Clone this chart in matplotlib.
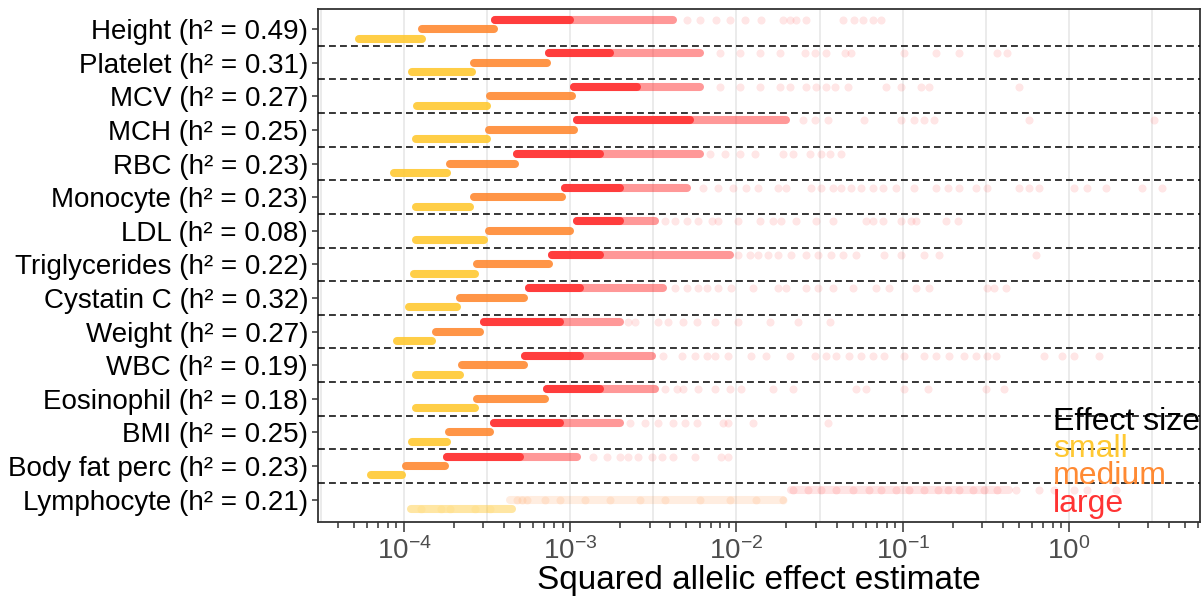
import numpy as np
import matplotlib
matplotlib.use("Agg")
import matplotlib.pyplot as plt

plt.rcParams['font.family'] = ['Liberation Sans', 'DejaVu Sans']

# ---- data (log10 of squared allelic effect) ----
traits = ["Height (h² = 0.49)", "Platelet (h² = 0.31)", "MCV (h² = 0.27)", "MCH (h² = 0.25)",
          "RBC (h² = 0.23)", "Monocyte (h² = 0.23)", "LDL (h² = 0.08)", "Triglycerides (h² = 0.22)",
          "Cystatin C (h² = 0.32)", "Weight (h² = 0.27)", "WBC (h² = 0.19)", "Eosinophil (h² = 0.18)",
          "BMI (h² = 0.25)", "Body fat perc (h² = 0.23)", "Lymphocyte (h² = 0.21)"]

# each band: [start, end of solid part, end of faded part]
small_band = [[-4.27, -3.89, -3.89], [-3.95, -3.59, -3.59], [-3.92, -3.50, -3.50], [-3.93, -3.50, -3.50],
              [-4.06, -3.74, -3.74], [-3.93, -3.60, -3.60], [-3.93, -3.52, -3.52], [-3.94, -3.57, -3.57],
              [-3.97, -3.68, -3.68], [-4.04, -3.83, -3.83], [-3.93, -3.66, -3.66], [-3.93, -3.57, -3.57],
              [-3.95, -3.74, -3.74], [-4.20, -4.01, -4.01], [-3.96, -3.96, -3.35]]
medium_band = [[-3.89, -3.46, -3.46], [-3.58, -3.14, -3.14], [-3.48, -2.99, -2.99], [-3.49, -2.98, -2.98],
               [-3.72, -3.33, -3.33], [-3.58, -3.05, -3.05], [-3.49, -3.00, -3.00], [-3.56, -3.13, -3.13],
               [-3.66, -3.28, -3.28], [-3.81, -3.54, -3.54], [-3.65, -3.28, -3.28], [-3.56, -3.15, -3.15],
               [-3.73, -3.48, -3.48], [-3.99, -3.75, -3.75], [-3.36, -3.36, -1.72]]
large_band = [[-3.45, -3.00, -2.38], [-3.13, -2.76, -2.22], [-2.98, -2.60, -2.22], [-2.96, -2.28, -1.70],
              [-3.32, -2.82, -2.22], [-3.03, -2.70, -2.30], [-2.96, -2.70, -2.49], [-3.11, -2.82, -2.04],
              [-3.25, -2.94, -2.44], [-3.52, -3.06, -2.70], [-3.27, -2.94, -2.51], [-3.14, -2.82, -2.49],
              [-3.46, -3.06, -2.70], [-3.74, -3.30, -2.96], [-1.67, -1.67, -0.36]]

# scattered single estimates beyond the dense part
small_tail = [[], [], [], [], [], [], [], [], [], [], [], [], [], [],
              [-3.90, -3.78, -3.72, -3.57, -3.48]]
medium_tail = [[], [], [], [], [], [], [], [], [], [], [], [], [], [],
               [-3.32, -3.29, -3.26, -3.15, -3.06, -2.91, -2.76, -2.58, -2.43, -2.22, -2.04, -1.88, -1.72]]
large_tail = [
    [-2.30, -2.22, -2.12, -2.04, -1.95, -1.85, -1.72, -1.68, -1.64, -1.58, -1.36, -1.29, -1.24, -1.18, -1.13],
    [-2.10, -1.98, -1.86, -1.74, -1.59, -1.53, -1.46, -1.35, -1.31, -0.99, -0.80, -0.66, -0.43, -0.37],
    [-2.10, -1.98, -1.86, -1.74, -1.68, -1.58, -1.52, -1.46, -1.41, -1.33, -1.10, -1.01, -0.89, -0.84, -0.30],
    [-1.60, -1.53, -1.45, -1.23, -1.01, -0.93, -0.87, -0.81, -0.24, 0.51],
    [-2.16, -2.07, -1.98, -1.89, -1.72, -1.66, -1.56, -1.49, -1.44, -1.37],
    [-2.20, -2.11, -2.02, -1.94, -1.87, -1.75, -1.70, -1.55, -1.49, -1.42, -1.37, -1.31, -1.25, -1.18,
     -1.12, -1.04, -0.93, -0.80, -0.73, -0.66, -0.56, -0.49, -0.30, -0.24, -0.18, 0.03, 0.11, 0.22, 0.44, 0.56],
    [-2.43, -2.37, -2.30, -2.23, -2.15, -2.11, -1.99, -1.86, -1.78, -1.73, -1.64, -1.52, -1.42, -1.22,
     -1.18, -1.12, -1.01, -0.95, -0.92, -0.74, -0.67],
    [-1.99, -1.92, -1.87, -1.81, -1.75, -1.67, -1.58, -1.51, -1.43, -1.36, -1.28, -1.11, -1.01, -0.87, -0.78, -0.20],
    [-2.37, -2.30, -2.23, -2.18, -2.11, -2.03, -1.90, -1.75, -1.70, -1.58, -1.51, -1.42, -1.30, -1.16,
     -1.08, -0.92, -0.84, -0.49, -0.45, -0.38],
    [-2.65, -2.61, -2.47, -2.41, -2.32, -2.24, -2.13, -1.99, -1.80, -1.63, -1.44],
    [-2.44, -2.33, -2.25, -2.18, -2.13, -2.05, -1.91, -1.82, -1.68, -1.53, -1.46, -1.40, -1.32, -1.25,
     -1.18, -1.11, -0.99, -0.87, -0.80, -0.72, -0.63, -0.56, -0.49, -0.44, -0.15, -0.04, 0.03, 0.18],
    [-2.43, -2.36, -2.32, -2.23, -2.13, -2.04, -1.97, -1.78, -1.66, -1.28, -1.22, -0.99, -0.85, -0.50, -0.39],
    [-2.64, -2.55, -2.47, -2.38, -2.31, -2.24, -2.08, -2.05, -1.90, -1.45],
    [-2.86, -2.78, -2.70, -2.65, -2.59, -2.51, -2.45, -2.38, -2.25, -2.09, -2.05],
    [-1.66, -1.57, -1.49, -1.40, -1.30, -1.20, -1.13, -1.04, -0.96, -0.87, -0.79, -0.73, -0.66, -0.58,
     -0.51, -0.43, -0.32, -0.18, -0.09, 0.03, 0.11, 0.28]]

size_names = ["small", "medium", "large"]
size_colors = ["#FFC933", "#FF8A33", "#FF3333"]

########################

fig = plt.figure(figsize=(12.03, 6.02), dpi=100)
ax = fig.add_axes([0.2643, 0.1334, 0.7332, 0.8512])

n = len(traits)
centers = np.arange(n)[::-1]
offsets = [-0.28, 0.0, 0.28]
faint_alpha = [0.45, 0.15, 0.13]   # alpha of the faded part in the last (sparse) row
lw = 5.8

for k in np.arange(-4.5, 0.6, 0.5):
    ax.axvline(10 ** k, color="#E6E6E6", lw=1.1, zorder=0)

for b, (bands, tails, off, col) in enumerate(zip([small_band, medium_band, large_band],
                                                 [small_tail, medium_tail, large_tail], offsets, size_colors)):
    for i in range(n):
        y = centers[i] + off
        lo, mid, hi = bands[i]
        faded = faint_alpha[b] if i == n - 1 else 0.5
        if hi > mid:
            ax.plot([10 ** lo, 10 ** hi], [y, y], color=col, lw=lw, alpha=faded,
                    solid_capstyle="round", zorder=2)
        if mid > lo:
            ax.plot([10 ** lo, 10 ** mid], [y, y], color=col, lw=lw, alpha=0.9,
                    solid_capstyle="round", zorder=3)
        if tails[i]:
            xs = 10 ** np.array(tails[i])
            ax.scatter(xs, np.full(len(xs), y), s=lw ** 2, color=col, alpha=0.12,
                       linewidths=0, zorder=2)

for c in centers[:-1]:
    ax.axhline(c - 0.5, color="black", lw=1.1, linestyle=(0, (4.5, 2.7)), zorder=4)

ax.set_xscale("log")
ax.set_xlim(3.04e-5, 6.14)
ax.set_ylim(-0.66, 14.59)
ax.set_yticks(centers)
ax.set_yticklabels(traits, fontsize=20, color="black")
ax.set_xticks([1e-4, 1e-3, 1e-2, 1e-1, 1e0])
ax.tick_params(axis="x", which="major", labelsize=20, labelcolor="#4D4D4D", length=7, width=1.1,
               color="#333333", pad=4)
ax.tick_params(axis="x", which="minor", length=4.5, width=1.1, color="#333333")
ax.tick_params(axis="y", length=4, width=1.1, color="#333333", pad=3)
ax.set_xlabel("Squared allelic effect estimate", fontsize=24, labelpad=0)
for s in ax.spines.values():
    s.set_color("#333333")
    s.set_linewidth(1.3)

ax.text(0.833, 0.195, "Effect size", transform=ax.transAxes, fontsize=23, color="black",
        va="center", ha="left", zorder=5)
for j, (name, col) in enumerate(zip(size_names, size_colors)):
    ax.text(0.833, 0.142 - j * 0.0535, name, transform=ax.transAxes, fontsize=23, color=col,
            va="center", ha="left", zorder=5)

fig.savefig("out.png", dpi=100)
